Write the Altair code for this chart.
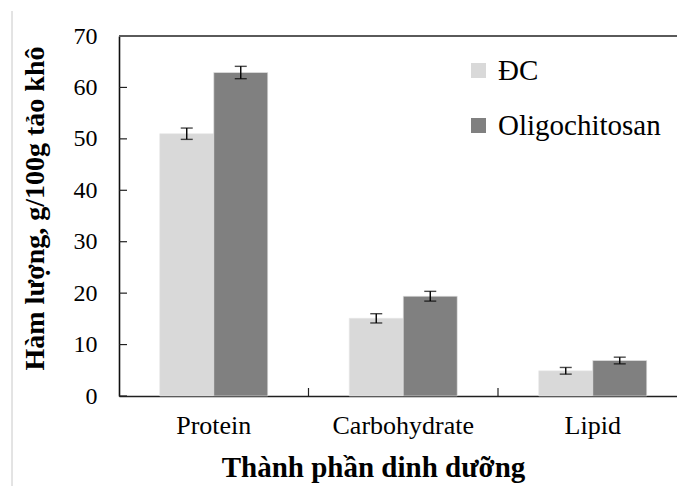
import altair as alt
import pandas as pd

categories = ["Protein", "Carbohydrate", "Lipid"]
groups = ["ĐC", "Oligochitosan"]
dc_values = [51.0, 15.1, 4.9]
dc_errors = [1.1, 0.9, 0.65]
oligo_values = [62.9, 19.4, 6.9]
oligo_errors = [1.2, 0.95, 0.65]
y_ticks = [0, 10, 20, 30, 40, 50, 60, 70]
separators = [1, 2]

rows = []
for i, c in enumerate(categories):
    rows.append({"cat": c, "grp": groups[0], "val": dc_values[i], "err": dc_errors[i]})
    rows.append({"cat": c, "grp": groups[1], "val": oligo_values[i], "err": oligo_errors[i]})
df = pd.DataFrame(rows)
df["lo"] = df["val"] - df["err"]
df["hi"] = df["val"] + df["err"]

FONT = "Liberation Serif, Times New Roman, serif"
STEP_RANGE = [0, 568.5]

xscale = alt.Scale(domain=categories, range=STEP_RANGE, paddingInner=0.43, paddingOuter=0.215)
yscale = alt.Scale(domain=[0, 70], nice=False)
xoff = alt.XOffset("grp:N", sort=groups, scale=alt.Scale(domain=groups, paddingInner=0, paddingOuter=0))

x_axis = alt.Axis(title="Thành phần dinh dưỡng", labelAngle=0, ticks=False,
                  labelPadding=16, labelFontSize=26, labelFont=FONT, labelColor="black",
                  domainColor="#202020", domainWidth=1.6,
                  titleFont=FONT, titleFontSize=29, titleFontWeight="bold", titleColor="black",
                  titleX=254, titleY=80, titleBaseline="alphabetic", titleAlign="center")
y_axis = alt.Axis(title="Hàm lượng, g/100g tảo khô", values=y_ticks, ticks=False,
                  labelPadding=22, labelFontSize=24, labelFont=FONT, labelColor="black",
                  domainColor="#101010", domainWidth=1.6, grid=False,
                  titleFont=FONT, titleFontSize=28, titleFontWeight="bold", titleColor="black",
                  titleX=-76, titleY=172, titleBaseline="alphabetic", titleAlign="center",
                  titleAngle=-90)

base = alt.Chart(df)

bars = base.mark_bar(stroke="#e8e8e8", strokeWidth=0.6).encode(
    x=alt.X("cat:N", sort=categories, scale=xscale, axis=x_axis),
    xOffset=xoff,
    y=alt.Y("val:Q", scale=yscale, axis=y_axis),
    color=alt.Color("grp:N", sort=groups,
                    scale=alt.Scale(domain=groups, range=["#d9d9d9", "#808080"]),
                    legend=alt.Legend(title=None, orient="none", legendX=345, legendY=20,
                                      symbolType="square", symbolSize=225, symbolStrokeWidth=0,
                                      symbolOpacity=1, labelFont=FONT, labelFontSize=29,
                                      labelLimit=400,
                                      labelColor="black", labelOffset=5, rowPadding=25)),
)

err_rules = base.mark_rule(color="black", strokeWidth=1.4).encode(
    x=alt.X("cat:N", sort=categories, scale=xscale, axis=x_axis),
    xOffset=xoff,
    y=alt.Y("lo:Q", scale=yscale, axis=y_axis),
    y2="hi:Q",
)
caps_hi = base.mark_tick(color="black", thickness=1.4, size=12).encode(
    x=alt.X("cat:N", sort=categories, scale=xscale, axis=x_axis),
    xOffset=xoff,
    y=alt.Y("hi:Q", scale=yscale, axis=y_axis),
)
caps_lo = base.mark_tick(color="black", thickness=1.4, size=12).encode(
    x=alt.X("cat:N", sort=categories, scale=xscale, axis=x_axis),
    xOffset=xoff,
    y=alt.Y("lo:Q", scale=yscale, axis=y_axis),
)

main = alt.layer(bars, err_rules, caps_hi, caps_lo)

ytick_rules = alt.Chart(pd.DataFrame({"t": y_ticks})).mark_rule(color="#202020", strokeWidth=1.2).encode(
    y=alt.Y("t:Q", scale=yscale, axis=y_axis),
    x=alt.value(0), x2=alt.value(8),
)

sep_rules = alt.Chart(pd.DataFrame({"s": separators})).mark_rule(color="#202020", strokeWidth=1.2).encode(
    x=alt.X("s:Q", scale=alt.Scale(domain=[0, 3], range=STEP_RANGE), axis=None),
    y=alt.value(352), y2=alt.value(360),
)

top_line = alt.Chart(pd.DataFrame({"k": [0]})).mark_rule(color="#5a5a5a", strokeWidth=2).encode(
    x=alt.value(0), x2=alt.value(560), y=alt.value(0),
)

page_line = alt.Chart(pd.DataFrame({"k": [0]})).mark_rule(color="#c8c8c8", strokeWidth=1).encode(
    x=alt.value(-107), y=alt.value(-25), y2=alt.value(452),
)

chart = alt.layer(
    main, ytick_rules, sep_rules, top_line, page_line
).resolve_scale(x="independent").properties(
    width=558, height=360,
    autosize=alt.AutoSizeParams(type="none"),
    padding={"left": 119, "top": 36, "right": 0, "bottom": 90},
).configure_view(stroke=None).configure(background="white", font=FONT)

chart.save("out.html", embed_options={"renderer": "svg", "actions": False})
